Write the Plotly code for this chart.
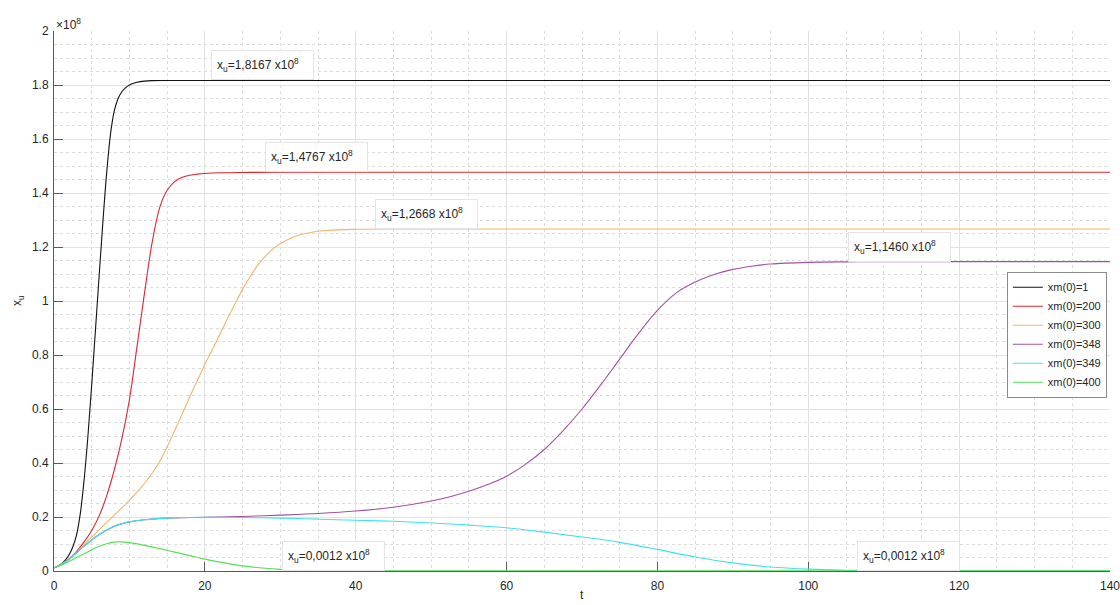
import plotly.graph_objects as go

# Time samples (t) and responses x_u (in units of 1e8) for each initial condition xm(0)
t_xm1 = [0, 0.5, 1, 1.5, 2, 2.5, 3, 3.5, 4, 4.5, 5, 5.5, 6, 6.5, 7, 7.5, 8, 8.5, 9, 9.5, 10,
         11, 12, 13, 15, 20, 60, 100, 140]
xu_xm1 = [0.012, 0.018, 0.027, 0.04, 0.06, 0.09, 0.135, 0.215, 0.34, 0.5, 0.69, 0.895, 1.1,
          1.3, 1.48, 1.62, 1.705, 1.75, 1.775, 1.79, 1.8, 1.81, 1.8145, 1.8162, 1.8167, 1.8167,
          1.8167, 1.8167, 1.8167]

t_xm200 = [0, 1, 2, 3, 4, 5, 6, 7, 8, 9, 10, 11, 12, 13, 14, 15, 16, 17, 18, 19, 20, 22, 25,
           30, 60, 100, 140]
xu_xm200 = [0.012, 0.024, 0.045, 0.073, 0.108, 0.15, 0.205, 0.28, 0.375, 0.49, 0.635, 0.83,
            1.03, 1.215, 1.345, 1.41, 1.442, 1.458, 1.466, 1.47, 1.4725, 1.475, 1.4762, 1.4767,
            1.4767, 1.4767, 1.4767]

t_xm300 = [0, 2, 4, 6, 8, 10, 11, 12, 13, 14, 15, 16, 17, 18, 19, 20, 21, 22, 23, 24, 25, 26,
           27, 28, 29, 30, 32, 34, 36, 40, 45, 50, 80, 110, 140]
xu_xm300 = [0.012, 0.045, 0.098, 0.153, 0.207, 0.262, 0.292, 0.325, 0.362, 0.405, 0.46, 0.52,
            0.582, 0.645, 0.705, 0.765, 0.82, 0.877, 0.935, 0.99, 1.043, 1.09, 1.132, 1.165,
            1.192, 1.212, 1.24, 1.254, 1.261, 1.2655, 1.2666, 1.2668, 1.2668, 1.2668, 1.2668]

t_xm348 = [0, 1, 2, 3, 4, 5, 6, 7, 8, 9, 10, 12, 15, 20, 25, 30, 35, 40, 45, 50, 52.5, 55,
           57.5, 60, 62.5, 65, 67.5, 70, 72.5, 75, 77.5, 80, 82.5, 85, 87.5, 90, 92.5, 95, 100,
           105, 110, 120, 140]
xu_xm348 = [0.012, 0.025, 0.043, 0.068, 0.092, 0.115, 0.135, 0.152, 0.166, 0.175, 0.182, 0.19,
            0.196, 0.199, 0.202, 0.207, 0.213, 0.222, 0.236, 0.259, 0.275, 0.295, 0.32, 0.351,
            0.395, 0.45, 0.52, 0.6, 0.69, 0.785, 0.88, 0.965, 1.03, 1.07, 1.098, 1.117, 1.129,
            1.137, 1.143, 1.145, 1.1457, 1.146, 1.146]

t_xm349 = [0, 1, 2, 3, 4, 5, 6, 7, 8, 9, 10, 12, 15, 20, 25, 30, 35, 40, 45, 50, 55, 60, 65,
           70, 75, 80, 85, 90, 95, 100, 105, 110, 120, 140]
xu_xm349 = [0.012, 0.025, 0.043, 0.068, 0.092, 0.115, 0.135, 0.152, 0.166, 0.175, 0.182, 0.19,
            0.196, 0.199, 0.198, 0.196, 0.192, 0.188, 0.184, 0.178, 0.17, 0.16, 0.144, 0.126,
            0.106, 0.08, 0.052, 0.03, 0.015, 0.007, 0.003, 0.0016, 0.0012, 0.0012]

t_xm400 = [0, 1, 2, 3, 4, 5, 6, 7, 8, 9, 10, 12, 14, 16, 18, 20, 22, 25, 28, 30, 33, 36, 40,
           45, 80, 110, 140]
xu_xm400 = [0.012, 0.022, 0.035, 0.05, 0.064, 0.079, 0.092, 0.101, 0.107, 0.108, 0.105,
            0.095, 0.083, 0.07, 0.057, 0.044, 0.033, 0.019, 0.01, 0.006, 0.003, 0.002, 0.0014,
            0.0012, 0.0012, 0.0012, 0.0012]

legend_names = ["xm(0)=1", "xm(0)=200", "xm(0)=300", "xm(0)=348", "xm(0)=349", "xm(0)=400"]
line_colors = ["#111111", "#e3232c", "#f3b46c", "#a2519f", "#3ee3ec", "#55e055"]

series_t = [t_xm1, t_xm200, t_xm300, t_xm348, t_xm349, t_xm400]
series_xu = [xu_xm1, xu_xm200, xu_xm300, xu_xm348, xu_xm349, xu_xm400]

FONT = "Liberation Sans, Arial, Helvetica, sans-serif"
TXT = "#262626"

fig = go.Figure()
for t, xu, name, col in zip(series_t, series_xu, legend_names, line_colors):
    fig.add_trace(go.Scatter(x=t, y=xu, mode="lines", name=name,
                             line=dict(color=col, width=1.1, shape="spline", smoothing=1.0)))

# Steady-state value labels: (series index, left edge t of the box)
label_spots = [(0, 20.8), (1, 28.0), (2, 42.5), (3, 105.2), (5, 30.2), (4, 106.5)]
for idx, t_left in label_spots:
    v = series_xu[idx][-1]
    txt = "x<sub>u</sub>=" + f"{v:.4f}".replace(".", ",") + " x10<sup>8</sup>"
    fig.add_annotation(x=t_left, y=v, xref="x", yref="y", xanchor="left", yanchor="bottom",
                       text=txt, showarrow=False, align="left", valign="middle",
                       width=91, height=18, borderpad=5, borderwidth=1,
                       bordercolor="#e4e4e4", bgcolor="white",
                       font=dict(family=FONT, size=12, color=TXT))

# Exponent of the y axis
fig.add_annotation(x=0, y=1, xref="paper", yref="paper", xanchor="left", yanchor="bottom",
                   yshift=-3, text="\u00d710<sup>8</sup>", showarrow=False,
                   font=dict(family=FONT, size=12, color=TXT))
# Axis titles
fig.add_annotation(x=0.5, y=0, xref="paper", yref="paper", xanchor="center", yanchor="top",
                   yshift=-15, text="t", showarrow=False,
                   font=dict(family=FONT, size=12, color=TXT))
fig.add_annotation(x=0, y=0.5, xref="paper", yref="paper", xanchor="center", yanchor="middle",
                   xshift=-36, text="x<sub>u</sub>", textangle=-90, showarrow=False,
                   font=dict(family=FONT, size=12, color=TXT))

axis_common = dict(
    showline=True, linecolor="#5a5a5a", linewidth=1,
    ticks="inside", ticklen=9, tickcolor="#5a5a5a", tickwidth=1,
    showgrid=True, gridcolor="#e2e2e2", gridwidth=1,
    zeroline=False, layer="below traces",
    tickfont=dict(family=FONT, size=12, color=TXT),
    ticklabeloverflow="allow", automargin=False,
    mirror=False,
)

fig.update_xaxes(range=[0, 140], tick0=0, dtick=20,
                 minor=dict(dtick=5, showgrid=True, gridcolor="#dcdcdc", griddash="dot",
                            ticks=""),
                 ticklabelstandoff=4, **axis_common)
fig.update_yaxes(range=[0, 2], tick0=0, dtick=0.2,
                 minor=dict(dtick=0.05, showgrid=True, gridcolor="#dcdcdc", griddash="dot",
                            ticks=""),
                 ticklabelstandoff=2, **axis_common)

fig.update_layout(
    width=1120, height=605,
    margin=dict(l=54, r=10, t=31, b=34),
    paper_bgcolor="white", plot_bgcolor="white",
    font=dict(family=FONT, size=12, color=TXT),
    legend=dict(x=0.997, y=0.4376, xanchor="right", yanchor="middle",
                bgcolor="white", bordercolor="#8a8a8a", borderwidth=1,
                font=dict(family=FONT, size=11, color=TXT), tracegroupgap=0,
                itemwidth=30),
    showlegend=True,
)

fig.write_html("out.html")
